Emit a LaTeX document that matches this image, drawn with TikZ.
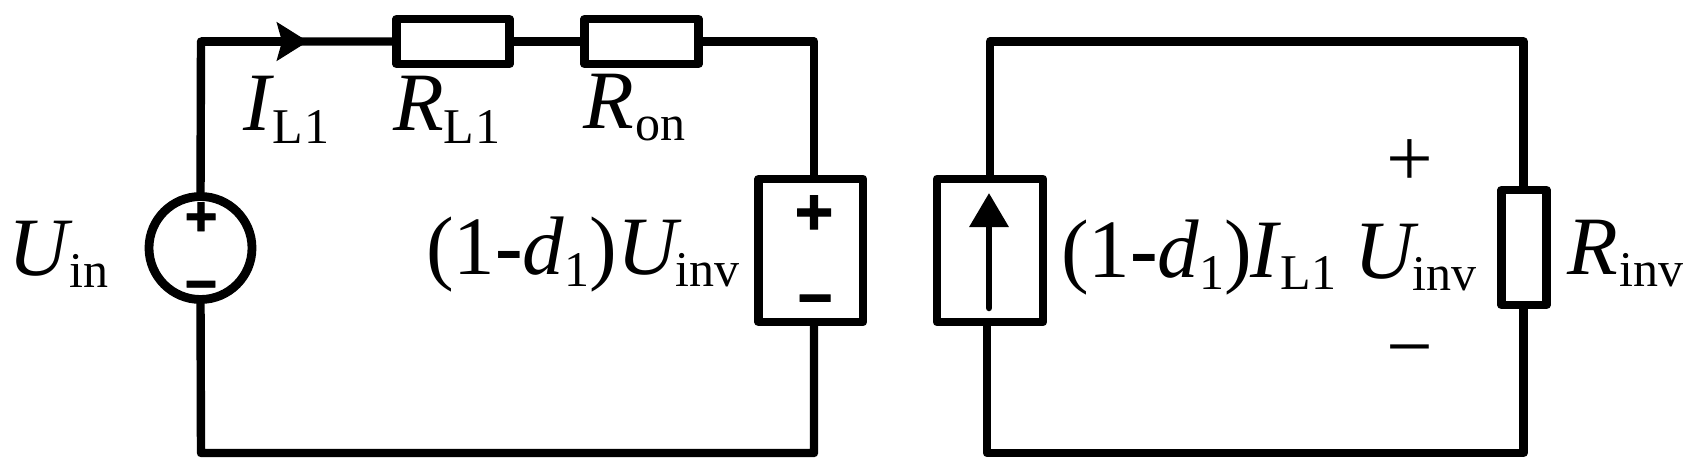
\documentclass[tikz,border=0pt]{standalone}
\usepackage{fontspec}
\setmainfont{Liberation Serif}
\newfontfamily\symfont[BoldFeatures={FakeBold=1.5}]{Liberation Sans}
\usetikzlibrary{arrows.meta}
\newcommand{\mainsize}{\fontsize{41.5pt}{41.5pt}\selectfont}
\newcommand{\subs}[2]{\raisebox{-6.25pt}{\fontsize{25pt}{25pt}\selectfont\kern#1pt #2}}
\newcommand{\hy}{\textbf{-}}
\tikzset{
  x=0.5pt,y=-0.5pt,
  wire/.style={line width=4.2pt,line join=round,line cap=butt},
  elem/.style={draw,line width=4.4pt,fill=white,rectangle,inner sep=0pt,outer sep=0pt,line join=round},
  lab/.style={inner sep=0pt,outer sep=0pt,anchor=base west,font=\mainsize},
  thinsign/.style={inner sep=0pt,outer sep=0pt,font=\mainsize},
  fatsign/.style={inner sep=0pt,outer sep=0pt,font=\symfont\bfseries\fontsize{#1pt}{#1pt}\selectfont},
}
\begin{document}
\begin{tikzpicture}
\useasboundingbox (0,0) rectangle (1696,476);
% elements
\node[elem,minimum width=56.5pt,minimum height=22.5pt] (r1) at (453,41.5) {};
\node[elem,minimum width=57pt,minimum height=22.5pt] (r2) at (641.5,41.5) {};
\node[elem,circle,minimum size=51.5pt] (vs) at (200.5,248) {};
\node[elem,minimum width=52.25pt,minimum height=71.5pt] (box1) at (810.75,250.5) {};
\node[elem,minimum width=53pt,minimum height=71.5pt] (box2) at (990,250.5) {};
\node[elem,minimum width=22.5pt,minimum height=57.5pt] (r3) at (1524,247.5) {};
% corner coordinates
\coordinate (tl) at (201,41.5);
\coordinate (bl) at (201,453);
\coordinate (tr) at (814,41.5);
\coordinate (br) at (814,453);
\coordinate (tl2) at (990,41.5);
\coordinate (bl2) at (987,453);
\coordinate (tr2) at (1523.5,41.5);
\coordinate (br2) at (1523.5,453);
\coordinate (ia) at (308,41.5);
% wires
\draw[wire] (vs.north) -- (tl) -- (r1.west);
\draw[wire] (r1.east) -- (r2.west);
\draw[wire] (r2.east) -- (tr) -- (tr |- box1.north);
\draw[wire] (tr |- box1.south) -- (br) -- (bl) -- (vs.south);
\draw[wire] (tl2 |- box2.north) -- (tl2) -- (tr2) -- (tr2 |- r3.north);
\draw[wire] (tr2 |- r3.south) -- (br2) -- (bl2) -- (bl2 |- box2.south);
% arrows
\draw[wire,-{Stealth[length=15.5pt,width=19pt,inset=2.5pt]}] (tl) -- (ia);
\coordinate (ca) at (989,308);
\coordinate (cb) at (989,193);
\draw[line width=3.25pt,line cap=round,-{Stealth[length=17pt,width=19pt,inset=0pt]}] (ca) -- (cb);
% source signs
\node[fatsign=28] (vp) at (201,219) {+};
\node[fatsign=28] (vm) at (201,292) {\char"2212};
\node[fatsign=33] (bp) at (814,215) {+};
\node[fatsign=30] (bm) at (815,306.5) {\char"2212};
% load signs
\node[thinsign] (lp) at (1410,163.5) {+};
\node[thinsign] (lm) at (1410,360) {\char"2212};
% labels
\node[lab] (li) at (243,131) {\textit{I}\subs{-0.5}{L\kern0.5pt 1}};
\node[lab] (lr1) at (393,131) {\textit{R}\subs{0}{L\kern0.5pt 1}};
\node[lab] (lr2) at (583,128) {\textit{R}\subs{1}{on}};
\node[lab] (lu) at (9,275) {\textit{U}\subs{-2}{in}};
\node[lab] (lv) at (426,274) {(1\hy\textit{d}\subs{0}{1})\textit{U}\subs{-3}{inv}};
\node[lab] (lc) at (1061,277) {(1\hy\textit{d}\subs{0}{1})\kern-1pt\textit{I}\subs{-0.5}{L\kern0.5pt 1}};
\node[lab] (lu2) at (1354,278) {\textit{U}\subs{-3}{inv}};
\node[lab] (lr3) at (1567,274) {\textit{R}\subs{1}{inv}};
\end{tikzpicture}
\end{document}
